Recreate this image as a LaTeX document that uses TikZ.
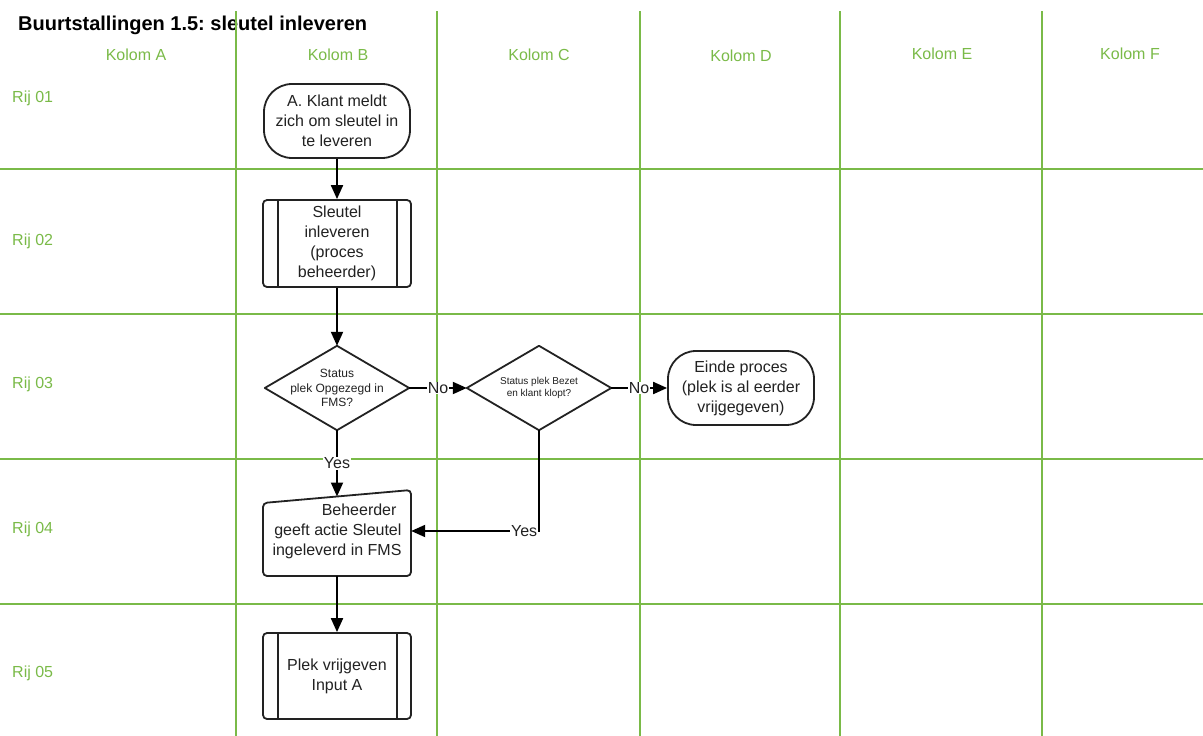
\documentclass[tikz,border=0pt]{standalone}
\usepackage{fontspec}
\setmainfont{Liberation Sans}
\usetikzlibrary{arrows.meta,calc}
\definecolor{lanegreen}{RGB}{122,186,72}
\definecolor{ink}{RGB}{34,34,34}

\begin{document}
\frenchspacing
\begin{tikzpicture}[x=1pt,y=-1pt,
  lane/.style={draw=lanegreen, line width=1.4pt},
  lanelabel/.style={text=lanegreen, font=\fontsize{16}{19}\selectfont, inner sep=0pt},
  boxtext/.style={font=\fontsize{16}{20}\selectfont, text=ink, align=center, inner sep=0pt},
  terminal/.style={boxtext, draw=ink, fill=white, line width=1.8pt, rounded corners=28pt,
    minimum width=146pt, minimum height=74pt},
  subproc/.style={boxtext, draw=ink, fill=white, line width=1.8pt, rounded corners=4pt,
    minimum width=148pt, minimum height=87pt},
  decision/.style={text=ink, align=center, inner sep=0pt, minimum width=144pt, minimum height=84pt},
  outline/.style={draw=ink, line width=1.8pt},
  flow/.style={draw=black, line width=2pt, -{Triangle[length=14pt,width=12pt]}},
  flowlabel/.style={fill=white, text=ink, font=\fontsize{16}{19}\selectfont, inner sep=0.8pt},
]
\useasboundingbox (0,0) rectangle (1203,736);

% title
\node[anchor=base west, inner sep=0pt, font=\fontsize{20}{24}\selectfont\bfseries] (title)
  at (18,30.5) {Buurtstallingen 1.5: sleutel inleveren};

% swimlane grid
\foreach \gx in {236,437,640,840,1042}
  \draw[lane] (\gx,11) -- (\gx,736);
\foreach \gy in {169,314,459,604}
  \draw[lane] (0,\gy) -- (1203,\gy);

% column headers
\node[lanelabel] (colA) at (136,55) {Kolom A};
\node[lanelabel] (colB) at (338,55) {Kolom B};
\node[lanelabel] (colC) at (539,55) {Kolom C};
\node[lanelabel] (colD) at (741,56) {Kolom D};
\node[lanelabel] (colE) at (942,54) {Kolom E};
\node[lanelabel] (colF) at (1130,54) {Kolom F};

% row headers
\node[lanelabel, anchor=west] (row1) at (12,98) {Rij 01};
\node[lanelabel, anchor=west] (row2) at (12,241) {Rij 02};
\node[lanelabel, anchor=west] (row3) at (12,384) {Rij 03};
\node[lanelabel, anchor=west] (row4) at (12,529) {Rij 04};
\node[lanelabel, anchor=west] (row5) at (12,673) {Rij 05};

% process steps
\node[terminal] (start) at (337,121) {A. Klant meldt\\zich om sleutel in\\te leveren};

\node[subproc] (sub1) at (337,243.5) {Sleutel\\inleveren\\(proces\\beheerder)};
\draw[outline] ($(sub1.north west)+(16,0)$) -- ($(sub1.south west)+(16,0)$);
\draw[outline] ($(sub1.north east)+(-15,0)$) -- ($(sub1.south east)+(-15,0)$);

\node[decision, font=\fontsize{12}{14.5}\selectfont] (d1) at (337,388) {Status\\plek Opgezegd in\\FMS?};
\draw[outline, fill=white, line join=round] (d1.north) -- (d1.east) -- (d1.south) -- (d1.west) -- cycle;
\node[decision, font=\fontsize{12}{14.5}\selectfont] at (d1.center) {Status\\plek Opgezegd in\\FMS?};

\node[decision, font=\fontsize{10}{12.7}\selectfont] (d2) at (539,388) {Status plek Bezet\\en klant klopt?};
\draw[outline, fill=white, line join=round] (d2.north) -- (d2.east) -- (d2.south) -- (d2.west) -- cycle;
\node[decision, font=\fontsize{10}{12.7}\selectfont] at (d2.center) {Status plek Bezet\\en klant klopt?};

\node[terminal] (stop) at (741,388) {Einde proces\\(plek is al eerder\\vrijgegeven)};

% manual input step (slanted top edge)
\node[boxtext, minimum width=148pt, minimum height=90pt] (mi) at (337,531) {};
\draw[outline, fill=white, rounded corners=4pt]
  ($(mi.center)+(-74,-28)$) -- ($(mi.center)+(74,-41)$) -- ($(mi.center)+(74,45)$)
  -- ($(mi.center)+(-74,45)$) -- cycle;
\node[boxtext, align=right] at (mi.center) {Beheerder\hspace*{5pt}\\geeft actie Sleutel\\ingeleverd in FMS};
\coordinate (mitop) at ($(mi.center)+(0,-34.5)$);

\node[subproc, minimum height=86pt] (sub2) at (337,676) {Plek vrijgeven\\Input A};
\draw[outline] ($(sub2.north west)+(16,0)$) -- ($(sub2.south west)+(16,0)$);
\draw[outline] ($(sub2.north east)+(-15,0)$) -- ($(sub2.south east)+(-15,0)$);

% connectors
\draw[flow] (start.south) -- (sub1.north);
\draw[flow] (sub1.south) -- (d1.north);
\draw[flow] (d1.east) -- node[flowlabel] {No} (d2.west);
\draw[flow] (d2.east) -- node[flowlabel] {No} (stop.west);
\draw[flow] (d1.south) -- node[flowlabel] {Yes} (mitop);
\draw[flow] (d2.south) |- node[flowlabel, pos=0.5, anchor=east] {Yes} (mi.east);
\draw[flow] (mi.south) -- (sub2.north);
\end{tikzpicture}
\end{document}
